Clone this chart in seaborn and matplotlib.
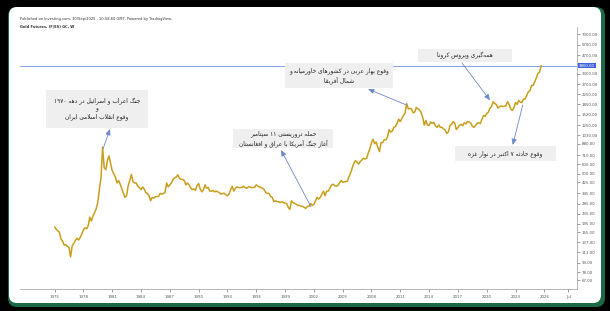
import re
import numpy as np
import pandas as pd
import matplotlib
matplotlib.use("Agg")
import matplotlib.pyplot as plt
import seaborn as sns
from matplotlib.patches import FancyBboxPatch, Rectangle
from matplotlib.transforms import IdentityTransform
from matplotlib.ticker import NullLocator

# ---------------- data ----------------
start_year = 1975
points_per_year = 6
prices = [
    183, 176, 170, 166, 146, 140,      # 1975
    130, 131, 127, 124, 104, 128,      # 1976
    134, 142, 148, 143, 150, 160,      # 1977
    173, 180, 177, 187, 220, 205,      # 1978
    225, 240, 258, 290, 375, 460,      # 1979
    830, 560, 540, 640, 700, 610,      # 1980
    530, 500, 470, 420, 440, 410,      # 1981
    375, 345, 320, 330, 400, 440,      # 1982
    495, 430, 420, 420, 395, 385,      # 1983
    370, 390, 375, 350, 345, 330,      # 1984
    300, 320, 315, 325, 325, 326,      # 1985
    345, 340, 345, 350, 420, 390,      # 1986
    405, 420, 450, 460, 470, 490,      # 1987
    460, 450, 450, 440, 405, 420,      # 1988
    405, 385, 370, 375, 365, 400,      # 1989
    415, 375, 355, 370, 405, 380,      # 1990
    385, 360, 360, 365, 355, 360,      # 1991
    355, 350, 340, 345, 345, 335,      # 1992
    330, 340, 370, 395, 360, 380,      # 1993
    390, 385, 385, 385, 395, 385,      # 1994
    380, 390, 390, 385, 385, 387,      # 1995
    405, 395, 390, 385, 380, 370,      # 1996
    350, 345, 345, 325, 320, 295,      # 1997
    300, 295, 295, 290, 295, 290,      # 1998
    287, 285, 265, 255, 300, 290,      # 1999
    285, 280, 275, 275, 270, 270,      # 2000
    265, 260, 270, 270, 285, 275,      # 2001
    280, 300, 320, 310, 320, 340,      # 2002
    360, 330, 360, 360, 380, 405,      # 2003
    410, 400, 395, 400, 420, 440,      # 2004
    425, 430, 430, 435, 475, 510,      # 2005
    560, 610, 640, 620, 600, 630,      # 2006
    650, 670, 660, 670, 740, 800,      # 2007
    900, 960, 880, 910, 820, 760,      # 2008
    900, 900, 950, 950, 1000, 1150,    # 2009
    1100, 1120, 1200, 1220, 1300, 1400,  # 2010
    1340, 1420, 1500, 1580, 1880, 1700,  # 2011
    1720, 1700, 1580, 1600, 1750, 1700,  # 2012
    1670, 1590, 1450, 1250, 1370, 1250,  # 2013
    1250, 1330, 1290, 1320, 1230, 1200,  # 2014
    1260, 1200, 1200, 1170, 1140, 1070,  # 2015
    1100, 1240, 1270, 1340, 1300, 1150,  # 2016
    1200, 1250, 1270, 1240, 1310, 1280,  # 2017
    1340, 1330, 1300, 1230, 1200, 1240,  # 2018
    1300, 1310, 1290, 1400, 1500, 1480,  # 2019
    1560, 1600, 1720, 1780, 1950, 1880,  # 2020
    1850, 1730, 1780, 1800, 1780, 1790,  # 2021
    1800, 1950, 1850, 1700, 1650, 1750,  # 2022
    1920, 1850, 2000, 1930, 1920, 2050,  # 2023
    2050, 2200, 2350, 2400, 2650, 2650,  # 2024
    2850, 3050, 3330, 3400, 3860,        # 2025
]
x_tick_years = [1975, 1978, 1981, 1984, 1987, 1990, 1993, 1996, 1999, 2002,
                2005, 2008, 2011, 2014, 2017, 2020, 2023, 2026, 2028.5]
x_tick_labels = ["1975", "1978", "1981", "1984", "1987", "1990", "1993", "1996",
                 "1999", "2002", "2005", "2008", "2011", "2014", "2017", "2020",
                 "2023", "2026", "Jul"]
y_ticks = [67, 78, 93, 113, 137, 165, 195, 235, 285, 345, 425, 500, 600, 710,
           880, 1030, 1250, 1520, 1850, 2250, 2700, 3300, 4700, 5700, 7000]
current_price = 3860.60

header_1 = "Published on Investing.com, 30/Sep/2025 - 10:58:60 GMT, Powered by TradingView."
header_2 = "Gold Futures, (F|ES) GC, W"

event_texts = [
    "جنگ اعراب و اسرائیل در دهه ۱۹۷۰\nو\nوقوع انقلاب اسلامی ایران",
    "حمله تروریستی ۱۱ سپتامبر\nآغاز جنگ آمریکا با عراق و افغانستان",
    "وقوع بهار عربی در کشورهای خاورمیانه و\nشمال آفریقا",
    "همه‌گیری ویروس کرونا",
    "وقوع حادثه ۷ اکتبر در نوار غزه",
]
event_years = [1980.05, 2001.7, 2011.65, 2020.35, 2023.75]
event_prices = [800, 268, 1830, 2000, 1830]

# ---------------- minimal Arabic-script shaping ----------------
FORMS = {
    '\u0627': ('\uFE8D', '\uFE8E', None, None),
    '\u0622': ('\uFE81', '\uFE82', None, None),
    '\u0628': ('\uFE8F', '\uFE90', '\uFE91', '\uFE92'),
    '\u067E': ('\uFB56', '\uFB57', '\uFB58', '\uFB59'),
    '\u062A': ('\uFE95', '\uFE96', '\uFE97', '\uFE98'),
    '\u062B': ('\uFE99', '\uFE9A', '\uFE9B', '\uFE9C'),
    '\u062C': ('\uFE9D', '\uFE9E', '\uFE9F', '\uFEA0'),
    '\u062D': ('\uFEA1', '\uFEA2', '\uFEA3', '\uFEA4'),
    '\u062E': ('\uFEA5', '\uFEA6', '\uFEA7', '\uFEA8'),
    '\u062F': ('\uFEA9', '\uFEAA', None, None),
    '\u0631': ('\uFEAD', '\uFEAE', None, None),
    '\u0632': ('\uFEAF', '\uFEB0', None, None),
    '\u0633': ('\uFEB1', '\uFEB2', '\uFEB3', '\uFEB4'),
    '\u0634': ('\uFEB5', '\uFEB6', '\uFEB7', '\uFEB8'),
    '\u0639': ('\uFEC9', '\uFECA', '\uFECB', '\uFECC'),
    '\u063A': ('\uFECD', '\uFECE', '\uFECF', '\uFED0'),
    '\u0641': ('\uFED1', '\uFED2', '\uFED3', '\uFED4'),
    '\u0642': ('\uFED5', '\uFED6', '\uFED7', '\uFED8'),
    '\u06A9': ('\uFB8E', '\uFB8F', '\uFB90', '\uFB91'),
    '\u06AF': ('\uFB92', '\uFB93', '\uFB94', '\uFB95'),
    '\u0644': ('\uFEDD', '\uFEDE', '\uFEDF', '\uFEE0'),
    '\u0645': ('\uFEE1', '\uFEE2', '\uFEE3', '\uFEE4'),
    '\u0646': ('\uFEE5', '\uFEE6', '\uFEE7', '\uFEE8'),
    '\u0647': ('\uFEE9', '\uFEEA', '\uFEEB', '\uFEEC'),
    '\u0648': ('\uFEED', '\uFEEE', None, None),
    '\u06CC': ('\uFBFC', '\uFBFD', '\uFBFE', '\uFBFF'),
    '\u0626': ('\uFE89', '\uFE8A', '\uFE8B', '\uFE8C'),
}
LAM_ALEF = {'\u0627': ('\uFEFB', '\uFEFC'), '\u0622': ('\uFEF5', '\uFEF6')}


def _dual(ch):
    return ch in FORMS and FORMS[ch][2] is not None


def shape_line(s):
    out = []
    i, n = 0, len(s)
    while i < n:
        c = s[i]
        if c not in FORMS:
            out.append(c)
            i += 1
            continue
        prev = s[i - 1] if i > 0 else ''
        jp = _dual(prev)
        if c == '\u0644' and i + 1 < n and s[i + 1] in LAM_ALEF:
            lig = LAM_ALEF[s[i + 1]]
            out.append(lig[1] if jp else lig[0])
            i += 2
            continue
        nxt = s[i + 1] if i + 1 < n else ''
        jn = _dual(c) and nxt in FORMS
        f = FORMS[c]
        if jp and jn:
            g = f[3]
        elif jp:
            g = f[1]
        elif jn:
            g = f[2]
        else:
            g = f[0]
        out.append(g)
        i += 1
    vis = ''.join(out).replace('\u200c', '')[::-1]
    vis = re.sub(r'[0-9\u06F0-\u06F9]+', lambda m: m.group(0)[::-1], vis)
    return vis


def shape(s):
    return '\n'.join(shape_line(l) for l in s.split('\n'))


# ---------------- figure ----------------
sns.set_style("white")
plt.rcParams['font.family'] = ['DejaVu Sans']

W, H = 610, 311
fig = plt.figure(figsize=(W / 100, H / 100), dpi=100, facecolor='black')

# card background
fig.patches.append(FancyBboxPatch((8, 4), 597, 300,
                                  boxstyle="round,pad=0,rounding_size=9",
                                  transform=IdentityTransform(), fc='#1c6a45', ec='none',
                                  zorder=-3))
fig.patches.append(FancyBboxPatch((9, 8), 592, 296,
                                  boxstyle="round,pad=0,rounding_size=8",
                                  transform=IdentityTransform(), fc='white', ec='none',
                                  zorder=-2))


def fx(px):
    return px / W


def fy(py):
    return 1 - py / H


ax = fig.add_axes([fx(20), fy(289), (577 - 20) / W, (289 - 27) / H])
ax.set_facecolor('none')
ax.set_zorder(1)

df = pd.DataFrame({
    "year": start_year + np.arange(len(prices)) / points_per_year,
    "price": prices,
})
sns.lineplot(data=df, x="year", y="price", ax=ax, color="#c89f1c", linewidth=1.1)

ax.set_yscale('log')
ax.set_xlim(1971.4, 2029.4)
ax.set_ylim(56.7, 7990)

ax.yaxis.tick_right()
ax.set_yticks(y_ticks)
ax.set_yticklabels([f"{v:.2f}" for v in y_ticks])
ax.yaxis.set_minor_locator(NullLocator())
ax.set_xticks(x_tick_years)
ax.set_xticklabels(x_tick_labels)
ax.tick_params(axis='y', right=True, length=2, width=0.4, labelsize=2.8,
               colors='#555555', pad=1.5)
ax.tick_params(axis='x', bottom=True, length=2, width=0.4, labelsize=2.8,
               colors='#555555', pad=2)
ax.set_xlabel("")
ax.set_ylabel("")
for side in ['left', 'top']:
    ax.spines[side].set_visible(False)
for side in ['right', 'bottom']:
    ax.spines[side].set_color('#999999')
    ax.spines[side].set_linewidth(0.5)

# current price line and label
ax.axhline(current_price, color='#6f8fe0', lw=0.6, zorder=1)
ax.text(1.003, current_price, f"{current_price:.2f}", transform=ax.get_yaxis_transform(),
        fontsize=2.8, color='white', va='center', ha='left',
        bbox=dict(boxstyle='square,pad=0.25', fc='#3d63dd', ec='none'))

# header
fig.text(fx(20), fy(19), header_1, fontsize=2.6, color='#333333', va='center', ha='left')
fig.text(fx(20), fy(26), header_2, fontsize=2.6, color='#333333', va='center', ha='left',
         fontweight='bold')

# event boxes (pixel rectangles: left, top, right, bottom)
boxes = [
    (46, 90, 148, 128),
    (233, 129, 333, 148),
    (285, 63, 393, 88),
    (418, 49, 512, 62),
    (455, 146, 556, 161),
]
# arrow ends at the boxes in pixels
arrow_box_pts = [(110, 129), (281, 150), (368, 89), (462, 63), (512.7, 145)]
arrow_head_at_box = [True, True, True, False, True]

for txt, (l, t, r, b) in zip(event_texts, boxes):
    fig.patches.append(Rectangle((fx(l), fy(b)), (r - l) / W, (b - t) / H,
                                 transform=fig.transFigure, fc='#efefef', ec='none', zorder=2))
    fig.text(fx((l + r) / 2), fy((t + b) / 2), shape(txt), fontsize=4.2, color='#222222',
             ha='center', va='center', multialignment='center', linespacing=1.35, zorder=3)

for (yr, pr), (bx, by), head_box in zip(zip(event_years, event_prices), arrow_box_pts,
                                       arrow_head_at_box):
    if head_box:
        ax.annotate('', xy=(fx(bx), fy(by)), xycoords='figure fraction',
                    xytext=(yr, pr), textcoords='data',
                    arrowprops=dict(arrowstyle='-|>,head_length=0.35,head_width=0.15',
                                    color='#6f88c8', lw=0.6, shrinkA=0, shrinkB=0))
    else:
        ax.annotate('', xy=(yr, pr), xycoords='data',
                    xytext=(fx(bx), fy(by)), textcoords='figure fraction',
                    arrowprops=dict(arrowstyle='-|>,head_length=0.35,head_width=0.15',
                                    color='#6f88c8', lw=0.6, shrinkA=0, shrinkB=0))

fig.savefig("out.png", dpi=100, facecolor='black')
